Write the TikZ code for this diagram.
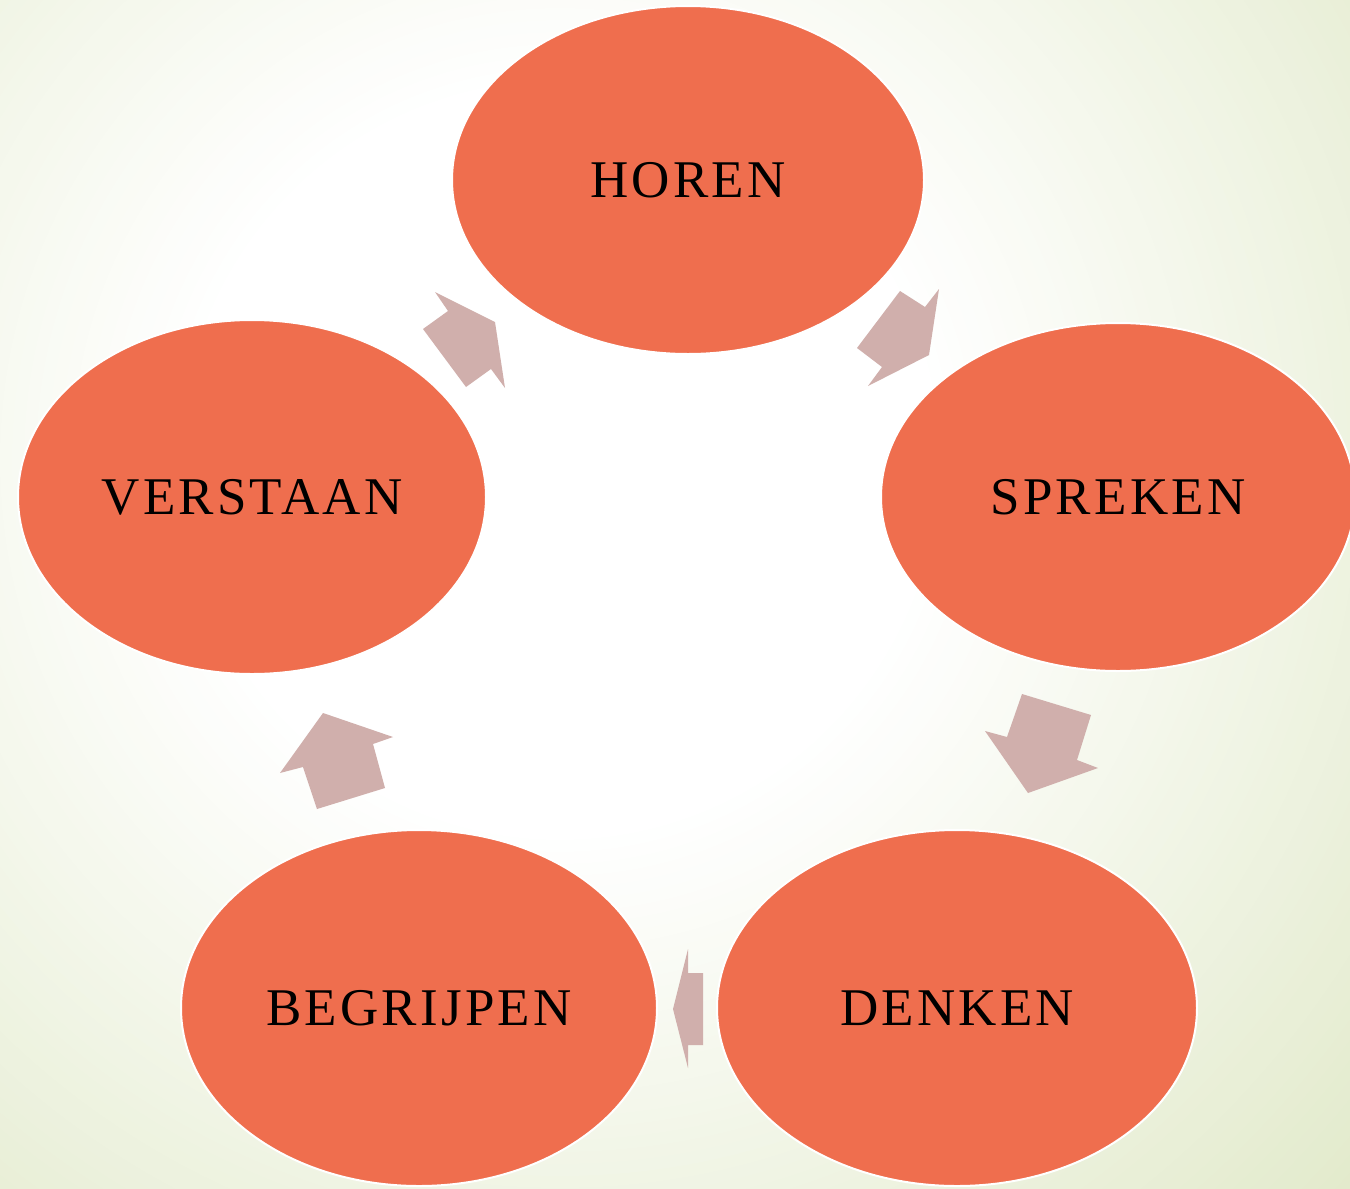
\documentclass[tikz,border=0pt]{standalone}
\usepackage{fontspec}
\setmainfont{Liberation Serif}[LetterSpace=6]
\usetikzlibrary{shapes.geometric}
\definecolor{ovalfill}{HTML}{EF6E4E}
\definecolor{arrowfill}{HTML}{D0AFAC}
\definecolor{bggreen}{HTML}{E2EACB}
\tikzset{
  oval/.style={ellipse, fill=ovalfill, draw=white, line width=1pt, inner sep=0pt,
    font=\fontsize{26.5pt}{30pt}\selectfont, text=black},
  blockarrow/.style={fill=arrowfill, draw=none}
}
\begin{document}
\begin{tikzpicture}[x=0.5pt, y=-0.5pt]
\useasboundingbox (0,0) rectangle (1350,1189);
\clip (0,0) rectangle (1350,1189);
% background: radial gradient built from concentric discs
\fill[bggreen] (0,0) rectangle (1350,1189);
\foreach \r in {1100,1088,...,380} {
  \pgfmathsetmacro\p{min(100,max(0,(\r-380)/711*100))}
  \fill[bggreen!\p!white] (560,460) circle (\r);
}
% ovals
\node[oval, minimum width=236pt, minimum height=174pt] (horen) at (688,180) {HOREN};
\node[oval, minimum width=237pt, minimum height=174pt] (spreken) at (1118,497) {SPREKEN};
\node[oval, minimum width=240pt, minimum height=178pt] (denken) at (957,1008) {DENKEN};
\node[oval, minimum width=238pt, minimum height=178pt] (begrijpen) at (419,1008) {BEGRIJPEN};
\node[oval, minimum width=234pt, minimum height=177pt] (verstaan) at (252,497) {VERSTAAN};
% block arrows
\fill[blockarrow] (435,292) -- (495,322) -- (505,388) -- (491,369) -- (466,387) -- (423,329) -- (448,311) -- cycle;
\fill[blockarrow] (900,291) -- (925,307) -- (939,289) -- (929,355) -- (868,386) -- (882,367) -- (857,348) -- cycle;
\fill[blockarrow] (1022,694) -- (1091,715) -- (1077,760) -- (1098,768) -- (1028,793) -- (985,731) -- (1007,737) -- cycle;
\fill[blockarrow] (688,949) -- (688,973) -- (703,973) -- (703,1045) -- (688,1045) -- (688,1068) -- (673,1009) -- cycle;
\fill[blockarrow] (323,713) -- (393,737) -- (373,744) -- (385,788) -- (317,809) -- (303,767) -- (280,773) -- cycle;
\end{tikzpicture}
\end{document}
